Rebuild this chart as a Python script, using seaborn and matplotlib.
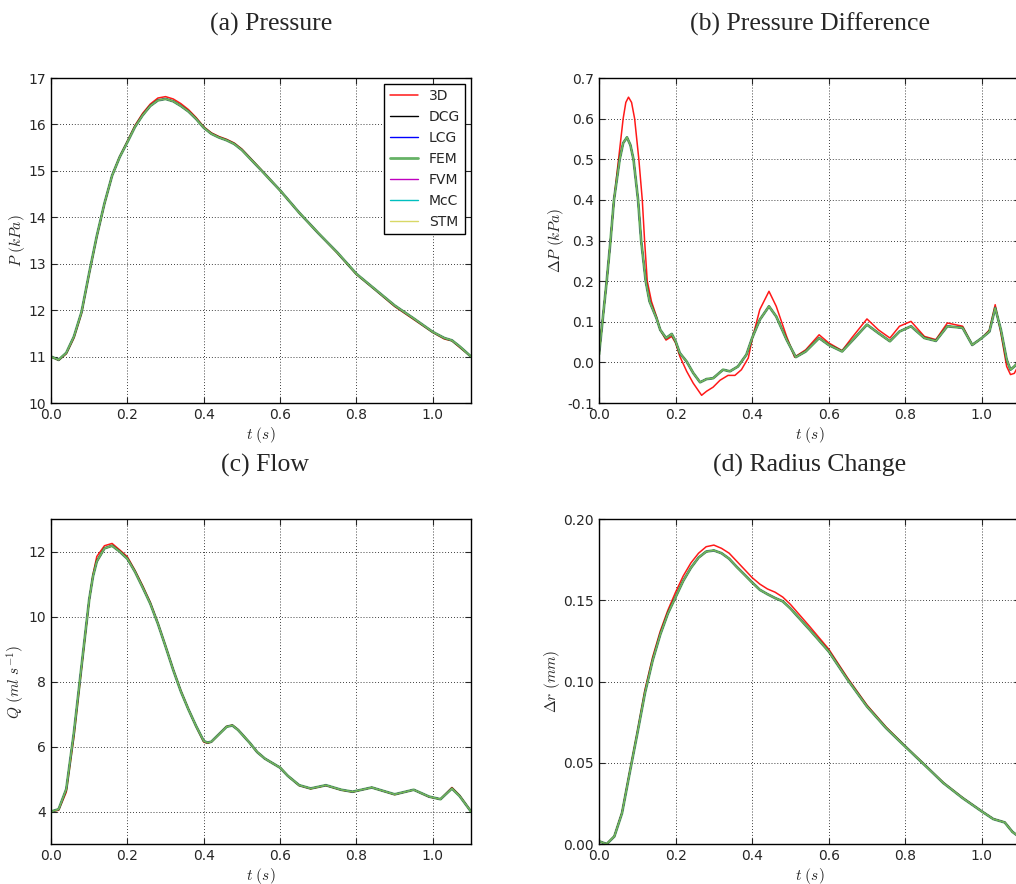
import numpy as np
import pandas as pd
import seaborn as sns
import matplotlib.pyplot as plt

# values
# (a) pressure, kPa
t_a = [0.0, 0.02, 0.04, 0.06, 0.08, 0.10, 0.12, 0.14, 0.16, 0.18, 0.20, 0.22, 0.24, 0.26, 0.28,
       0.30, 0.32, 0.34, 0.36, 0.38, 0.40, 0.42, 0.44, 0.46, 0.48, 0.50, 0.55, 0.60, 0.65, 0.70,
       0.75, 0.80, 0.85, 0.90, 0.95, 1.00, 1.03, 1.05, 1.07, 1.10]
p_3d = [11.0, 10.92, 11.06, 11.4, 11.93, 12.78, 13.58, 14.29, 14.9, 15.31, 15.64, 15.98, 16.24, 16.44, 16.57,
        16.6, 16.55, 16.45, 16.32, 16.15, 15.95, 15.82, 15.74, 15.68, 15.6, 15.47, 15.03, 14.58, 14.1, 13.66,
        13.23, 12.77, 12.43, 12.08, 11.8, 11.52, 11.38, 11.34, 11.2, 11.0]
p_1d = [11.0, 10.93, 11.08, 11.43, 11.96, 12.8, 13.6, 14.3, 14.9, 15.3, 15.62, 15.95, 16.2, 16.4, 16.52,
        16.55, 16.5, 16.4, 16.28, 16.12, 15.93, 15.8, 15.72, 15.66, 15.58, 15.45, 15.02, 14.58, 14.1, 13.66,
        13.24, 12.78, 12.44, 12.1, 11.82, 11.53, 11.4, 11.35, 11.22, 11.0]

# (b) pressure difference, kPa (3D and 1-D curves read at their own times)
t_b_3d = [0.0, 0.01, 0.02, 0.03, 0.039, 0.051, 0.063, 0.07, 0.077, 0.085, 0.093, 0.104, 0.113, 0.119, 0.126,
          0.137, 0.15, 0.16, 0.175, 0.19, 0.2, 0.211, 0.229, 0.246, 0.268, 0.281, 0.298, 0.316, 0.337, 0.355,
          0.372, 0.39, 0.4, 0.42, 0.444, 0.463, 0.49, 0.511, 0.54, 0.575, 0.60, 0.635, 0.66, 0.70, 0.73,
          0.76, 0.785, 0.815, 0.85, 0.88, 0.91, 0.95, 0.975, 1.00, 1.02, 1.035, 1.05, 1.065, 1.075, 1.085, 1.10]
dp_3d = [0.02, 0.11, 0.2, 0.3, 0.4, 0.5, 0.6, 0.64, 0.653, 0.64, 0.6, 0.5, 0.4, 0.3, 0.2,
         0.15, 0.113, 0.08, 0.055, 0.064, 0.048, 0.015, -0.022, -0.051, -0.081, -0.071, -0.061, -0.044, -0.032, -0.032,
         -0.018, 0.011, 0.057, 0.13, 0.175, 0.138, 0.064, 0.013, 0.031, 0.068, 0.048, 0.029, 0.06, 0.107, 0.08,
         0.06, 0.089, 0.101, 0.064, 0.056, 0.097, 0.089, 0.043, 0.06, 0.08, 0.142, 0.072, -0.01, -0.03, -0.027, 0.0]
t_b_1d = [0.0, 0.01, 0.02, 0.03, 0.039, 0.054, 0.063, 0.073, 0.082, 0.09, 0.102, 0.11, 0.122, 0.132, 0.15,
          0.16, 0.175, 0.19, 0.2, 0.211, 0.229, 0.246, 0.264, 0.281, 0.298, 0.324, 0.342, 0.363, 0.385, 0.4,
          0.42, 0.444, 0.463, 0.49, 0.514, 0.54, 0.575, 0.60, 0.635, 0.66, 0.70, 0.73, 0.76, 0.785, 0.815,
          0.85, 0.88, 0.91, 0.95, 0.975, 1.00, 1.02, 1.035, 1.05, 1.065, 1.075, 1.085, 1.10]
dp_1d = [0.02, 0.11, 0.2, 0.3, 0.4, 0.5, 0.54, 0.554, 0.535, 0.5, 0.4, 0.3, 0.2, 0.15, 0.109,
         0.08, 0.06, 0.07, 0.052, 0.023, 0.002, -0.026, -0.049, -0.041, -0.039, -0.018, -0.022, -0.01, 0.019, 0.06,
         0.105, 0.138, 0.113, 0.056, 0.013, 0.027, 0.06, 0.043, 0.027, 0.052, 0.093, 0.072, 0.052, 0.076, 0.089,
         0.06, 0.053, 0.089, 0.085, 0.043, 0.06, 0.076, 0.134, 0.08, 0.007, -0.018, -0.01, 0.005]

# (c) flow, ml/s
t_c = [0.0, 0.02, 0.04, 0.06, 0.08, 0.10, 0.11, 0.12, 0.14, 0.16, 0.18, 0.20, 0.22, 0.24, 0.26,
       0.28, 0.30, 0.32, 0.34, 0.36, 0.38, 0.40, 0.41, 0.42, 0.44, 0.46, 0.475, 0.49, 0.52, 0.54,
       0.56, 0.60, 0.62, 0.65, 0.68, 0.72, 0.76, 0.79, 0.84, 0.90, 0.95, 0.99, 1.02, 1.05, 1.07, 1.10]
q_3d = [4.0, 4.04, 4.6, 6.3, 8.4, 10.5, 11.3, 11.85, 12.18, 12.25, 12.05, 11.84, 11.42, 10.95, 10.44,
        9.8, 9.1, 8.38, 7.72, 7.15, 6.62, 6.14, 6.1, 6.14, 6.38, 6.62, 6.66, 6.52, 6.12, 5.83,
        5.63, 5.35, 5.1, 4.8, 4.7, 4.8, 4.66, 4.6, 4.74, 4.52, 4.67, 4.45, 4.38, 4.74, 4.5, 4.0]
q_1d = [4.0, 4.07, 4.69, 6.43, 8.48, 10.52, 11.24, 11.7, 12.1, 12.18, 12.0, 11.78, 11.38, 10.9, 10.4,
        9.78, 9.08, 8.36, 7.7, 7.14, 6.63, 6.17, 6.12, 6.15, 6.38, 6.61, 6.65, 6.51, 6.12, 5.83,
        5.63, 5.35, 5.1, 4.81, 4.71, 4.81, 4.67, 4.61, 4.74, 4.53, 4.67, 4.46, 4.38, 4.71, 4.48, 4.0]

# (d) radius change, mm
t_d = [0.0, 0.02, 0.04, 0.06, 0.08, 0.10, 0.12, 0.14, 0.16, 0.18, 0.20, 0.22, 0.24, 0.26, 0.28,
       0.30, 0.32, 0.34, 0.36, 0.38, 0.40, 0.42, 0.44, 0.46, 0.48, 0.50, 0.55, 0.60, 0.65, 0.70,
       0.75, 0.80, 0.85, 0.90, 0.95, 1.00, 1.03, 1.06, 1.08, 1.10]
dr_3d = [0.0017, 0.0, 0.0048, 0.0195, 0.0445, 0.069, 0.095, 0.115, 0.131, 0.144, 0.155, 0.165, 0.173, 0.179, 0.183,
         0.184, 0.182, 0.179, 0.174, 0.169, 0.164, 0.16, 0.157, 0.155, 0.152, 0.1475, 0.134, 0.12, 0.102, 0.0855,
         0.072, 0.0603, 0.049, 0.0377, 0.0285, 0.0202, 0.0155, 0.0134, 0.0076, 0.004]
dr_1d = [0.0017, 0.0, 0.0047, 0.019, 0.0437, 0.068, 0.093, 0.113, 0.129, 0.142, 0.152, 0.162, 0.170, 0.1763, 0.18,
         0.1807, 0.179, 0.1756, 0.1705, 0.1658, 0.161, 0.1565, 0.1538, 0.1514, 0.1494, 0.145, 0.132, 0.1186, 0.101, 0.0847,
         0.0714, 0.06, 0.0488, 0.0375, 0.0283, 0.0201, 0.0154, 0.0133, 0.0075, 0.004]

models = ['3D', 'DCG', 'LCG', 'FEM', 'FVM', 'McC', 'STM']
model_colors = ['r', 'k', 'b', 'g', 'm', 'c', 'y']
model_widths = [1.1, 1.0, 1.0, 2.0, 1.0, 1.0, 1.0]
model_alpha = [0.9, 1.0, 1.0, 0.6, 1.0, 1.0, 0.6]

sns.set_style('ticks')
plt.rcParams.update({
    'font.family': ['DejaVu Sans'],
    'mathtext.fontset': 'cm',
    'xtick.direction': 'in', 'ytick.direction': 'in',
    'xtick.top': True, 'ytick.right': True,
    'xtick.major.size': 4, 'ytick.major.size': 4,
    'xtick.labelsize': 10, 'ytick.labelsize': 10,
    'axes.edgecolor': 'black', 'axes.linewidth': 1.0,
})

fig = plt.figure(figsize=(10.16, 8.84), dpi=100)
ax_a = fig.add_axes([0.0502, 0.5441, 0.4134, 0.3676])
ax_b = fig.add_axes([0.5896, 0.5441, 0.4144, 0.3676])
ax_c = fig.add_axes([0.0502, 0.0452, 0.4134, 0.3676])
ax_d = fig.add_axes([0.5896, 0.0452, 0.4144, 0.3676])


def draw_panel(ax, t3, y3d, t1, y1d, title, ylabel, ylim, yticks, title_x=0.5, legend=False):
    for name, col, lw, al in zip(models, model_colors, model_widths, model_alpha):
        t, y = (t3, y3d) if name == '3D' else (t1, y1d)
        sns.lineplot(x=t, y=y, ax=ax, color=col, lw=lw, alpha=al, solid_joinstyle='round',
                     label=name if legend else None)
    ax.set_xlim(0, 1.1)
    ax.set_ylim(*ylim)
    ax.set_xticks([0.0, 0.2, 0.4, 0.6, 0.8, 1.0])
    ax.set_yticks(yticks)
    ax.grid(True, linestyle=(0, (1, 2.5)), color='black', linewidth=0.6)
    ax.set_title(title, family='Liberation Serif', fontsize=18.5, pad=34, x=title_x)
    ax.set_xlabel(r'$t\ (s)$', fontsize=11, labelpad=2)
    ax.set_ylabel(ylabel, fontsize=11, labelpad=1)
    if legend:
        ax.legend(loc='upper right', fontsize=10, frameon=True, fancybox=False, edgecolor='black',
                  framealpha=1, labelspacing=0.5, handlelength=2.0, borderaxespad=0.4)
    elif ax.get_legend() is not None:
        ax.get_legend().remove()


draw_panel(ax_a, t_a, p_3d, t_a, p_1d, '(a) Pressure', r'$P\ (kPa)$', (10, 17), np.arange(10, 18, 1),
           title_x=0.525, legend=True)
draw_panel(ax_b, t_b_3d, dp_3d, t_b_1d, dp_1d, '(b) Pressure Difference', r'$\Delta P\ (kPa)$', (-0.1, 0.7),
           np.round(np.arange(-0.1, 0.71, 0.1), 1))
draw_panel(ax_c, t_c, q_3d, t_c, q_1d, '(c) Flow', r'$Q\ (ml\ s^{-1})$', (3, 13), [4, 6, 8, 10, 12],
           title_x=0.51)
draw_panel(ax_d, t_d, dr_3d, t_d, dr_1d, '(d) Radius Change', r'$\Delta r\ (mm)$', (0, 0.2),
           [0.0, 0.05, 0.10, 0.15, 0.20])
ax_b.yaxis.set_major_formatter(plt.FormatStrFormatter('%.1f'))
ax_d.yaxis.set_major_formatter(plt.FormatStrFormatter('%.2f'))
for ax in (ax_a, ax_b, ax_c, ax_d):
    ax.xaxis.set_major_formatter(plt.FormatStrFormatter('%.1f'))

fig.savefig('out.png', dpi=100)
